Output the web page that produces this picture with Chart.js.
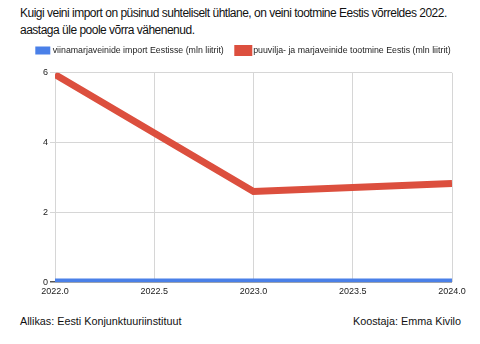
<!DOCTYPE html>
<html><head><meta charset="utf-8">
<script src="https://cdn.jsdelivr.net/npm/chart.js@4/dist/chart.umd.min.js"></script>
<style>
body{margin:0;width:480px;height:344px;background:#fff;font-family:"Liberation Sans",Arial,sans-serif;position:relative;overflow:hidden}
#title{position:absolute;left:20px;top:5px;font-size:12px;letter-spacing:-0.5px;line-height:17px;color:#111;white-space:nowrap}
#wrap{position:absolute;left:0;top:30px;width:480px;height:271px}
#src{position:absolute;left:20px;top:315px;font-size:10.8px;color:#111}
#auth{position:absolute;right:19px;top:315px;font-size:10.8px;color:#111}
</style></head><body>
<div id="title">Kuigi veini import on püsinud suhteliselt ühtlane, on veini tootmine Eestis võrreldes 2022.<br>aastaga üle poole võrra vähenenud.</div>
<div id="wrap"><canvas id="c"></canvas></div>
<div id="src">Allikas: Eesti Konjunktuuriinstituut</div>
<div id="auth">Koostaja: Emma Kivilo</div>
<script>
const years = [2022, 2023, 2024];
const importValues = [0.05, 0.05, 0.05];
const productionValues = [5.95, 2.6, 2.83];
const seriesNames = ["viinamarjaveinide import Eestisse (mln liitrit)", "puuvilja- ja marjaveinide tootmine Eestis (mln liitrit)"];
const yTicks = [0, 2, 4, 6];
const F = '"Liberation Sans",Arial';

const legendShift = {
  id:'legendShift',
  afterLayout(chart){
    const l = chart.legend; if(!l) return;
    l.left += 18; l.right += 18; l.top -= 8; l.bottom -= 8;
  }
};

new Chart(document.getElementById('c'), {
  type: 'line',
  data: {
    datasets: [
      {label: seriesNames[0], data: years.map((y,i)=>({x:y,y:importValues[i]})), borderColor:'#4a80e8', backgroundColor:'#4a80e8', borderWidth:4, pointRadius:0, tension:0},
      {label: seriesNames[1], data: years.map((y,i)=>({x:y,y:productionValues[i]})), borderColor:'#dc4f3e', backgroundColor:'#dc4f3e', borderWidth:7, pointRadius:0, tension:0}
    ]
  },
  options: {
    responsive:true, maintainAspectRatio:false, animation:false,
    layout:{padding:{left:0,right:28,top:10,bottom:0}},
    plugins:{
      legend:{position:'top', align:'center', labels:{boxWidth:11, boxHeight:4, font:{size:8.8, family:F}, color:'#222', padding:14}},
      tooltip:{enabled:false}
    },
    scales:{
      x:{type:'linear', min:2022, max:2024,
        ticks:{stepSize:0.5, callback:v=>Number(v).toFixed(1), font:{size:9,family:F}, color:'#222', maxRotation:0, padding:4},
        grid:{color:'#d6d6d6', drawTicks:false}, border:{display:false}},
      y:{min:0, max:6,
        afterBuildTicks:s=>{s.ticks=yTicks.map(v=>({value:v}));},
        afterFit:s=>{s.width=55;},
        ticks:{font:{size:9,family:F}, color:'#222', padding:2},
        grid:{color:c=>c.tick && c.tick.value===0 ? '#555':'#d6d6d6', tickLength:5, lineWidth:c=>c.tick && c.tick.value===0 ? 1.5:1},
        border:{display:false}}
    }
  },
  plugins:[legendShift]
});
</script>
</body></html>
